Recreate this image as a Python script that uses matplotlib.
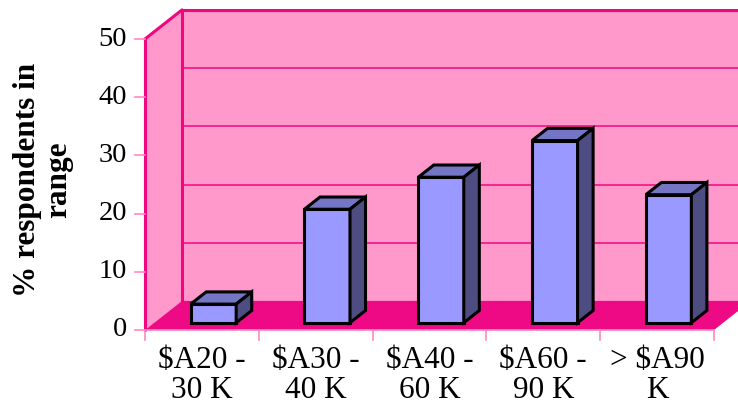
import matplotlib.pyplot as plt
from matplotlib.patches import Polygon

# Income bands and share of respondents (%)
categories = ["$A20 -\n30 K", "$A30 -\n40 K", "$A40 -\n60 K", "$A60 -\n90 K", "> $A90\nK"]
values = [3.2, 19.5, 25.0, 31.3, 22.0]
y_ticks = [0, 10, 20, 30, 40, 50]
y_label = "% respondents in\nrange"

plt.rcParams['font.family'] = ['Liberation Serif', 'DejaVu Serif']

WALL = '#FF99CC'
FLOOR = '#EE0A84'
EDGE = '#F0067F'
AXIS = '#FF88C4'
BAR_FRONT = '#9999FF'
BAR_TOP = '#7575C5'
BAR_SIDE = '#4D4D82'

# oblique 3-D: full depth shifts x by DX (category units) and y by DY (value units)
DX, DY = 0.325, 5.0
YMAX = 50
n = len(categories)
bar_w = 0.40
bar_c = 0.52
bar_z0, bar_z1 = 0.25, 0.67


def proj(x, y, z):
    return (x + z * DX, y + z * DY)


fig = plt.figure(figsize=(7.38, 4.07), dpi=100)
ax = fig.add_axes([0, 0, 1, 1])
px_x = 113.8   # pixels per category
px_y = 5.82    # pixels per value unit
ax.set_xlim(-145 / px_x, (738 - 145) / px_x)
ax.set_ylim(-77 / px_y, (407 - 77) / px_y)
ax.axis('off')

# walls and floor
back = [proj(0, 0, 1), proj(n, 0, 1), proj(n, YMAX, 1), proj(0, YMAX, 1)]
side = [proj(0, 0, 0), proj(0, 0, 1), proj(0, YMAX, 1), proj(0, YMAX, 0)]
floor = [proj(0, 0, 0), proj(n, 0, 0), proj(n, 0, 1), proj(0, 0, 1)]
ax.add_patch(Polygon(back, closed=True, fc=WALL, ec='none', zorder=1))
ax.add_patch(Polygon(side, closed=True, fc=WALL, ec='none', zorder=1))

for t in y_ticks[1:-1]:
    xs, ys = zip(proj(0, t, 1), proj(n, t, 1))
    ax.plot(xs, ys, color=EDGE, lw=1.1, zorder=2)

ax.add_patch(Polygon(floor, closed=True, fc=FLOOR, ec='none', zorder=3))

# wall outlines
for a, b in [((0, YMAX, 0), (0, YMAX, 1)), ((0, YMAX, 1), (n, YMAX, 1)),
             ((0, 0, 0), (0, YMAX, 0)), ((0, 0, 1), (0, YMAX, 1))]:
    xs, ys = zip(proj(*a), proj(*b))
    ax.plot(xs, ys, color=EDGE, lw=2.2, zorder=4, solid_capstyle='round')

# value axis ticks and labels
for t in y_ticks:
    ax.plot([-0.088, 0], [t, t], color=AXIS, lw=1.2, zorder=4)
    ax.text(-0.158, t, str(t), ha='right', va='center', fontsize=20.5, color='black')

# category axis
ax.plot([0, n], [0, 0], color=AXIS, lw=1.2, zorder=4)
for i in range(n + 1):
    ax.plot([i, i], [0, -1.8], color=AXIS, lw=1.2, zorder=4)
for i, lab in enumerate(categories):
    ax.text(i + 0.5, -2.7, lab, ha='center', va='top', fontsize=22.5,
            linespacing=1.05, color='black')

# bars
for i, v in enumerate(values):
    x0 = i + bar_c - bar_w / 2
    x1 = i + bar_c + bar_w / 2
    front = [proj(x0, 0, bar_z0), proj(x1, 0, bar_z0), proj(x1, v, bar_z0), proj(x0, v, bar_z0)]
    top = [proj(x0, v, bar_z0), proj(x1, v, bar_z0), proj(x1, v, bar_z1), proj(x0, v, bar_z1)]
    right = [proj(x1, 0, bar_z0), proj(x1, 0, bar_z1), proj(x1, v, bar_z1), proj(x1, v, bar_z0)]
    for poly, fc in [(front, BAR_FRONT), (top, BAR_TOP), (right, BAR_SIDE)]:
        ax.add_patch(Polygon(poly, closed=True, fc=fc, ec='black', lw=2.2,
                             joinstyle='miter', zorder=5 + i))

ax.text((43 - 145) / px_x, (330 - 180) / px_y, y_label,
        rotation=90, ha='center', va='center', multialignment='center',
        fontsize=22.5, fontweight='bold', linespacing=1.1)

fig.savefig('out.png', dpi=100)
